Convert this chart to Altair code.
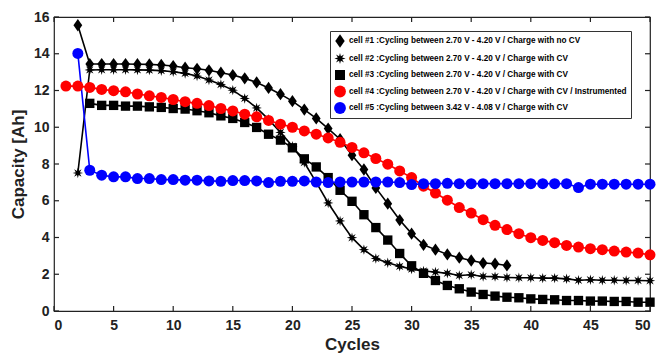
import math
import altair as alt
import pandas as pd

# ---------------- data ----------------
labels = [
    "cell #1 :Cycling between 2.70 V - 4.20 V / Charge with no CV",
    "cell #2 :Cycling between 2.70 V - 4.20 V / Charge with CV",
    "cell #3 :Cycling between 2.70 V - 4.20 V / Charge with CV",
    "cell #4 :Cycling between 2.70 V - 4.20 V / Charge with CV / Instrumented",
    "cell #5 :Cycling between 3.42 V - 4.08 V / Charge with CV",
]

cell1_start = 2
cell1 = [15.55, 13.44, 13.44, 13.44, 13.44, 13.43, 13.42, 13.39, 13.33, 13.24,
         13.18, 13.10, 12.97, 12.84, 12.66, 12.44, 12.14, 11.80, 11.42, 10.96,
         10.48, 9.93, 9.35, 8.48, 7.70, 6.70, 5.84, 4.95, 4.21, 3.60,
         3.34, 3.08, 2.90, 2.75, 2.61, 2.57, 2.48]

cell2_start = 2
cell2 = [7.51, 13.12, 13.13, 13.13, 13.13, 13.12, 13.11, 13.08, 13.02, 12.93,
         12.79, 12.57, 12.33, 12.02, 11.57, 11.05, 10.43, 9.72, 8.97, 8.08,
         7.00, 5.88, 4.90, 3.99, 3.34, 2.86, 2.63, 2.43, 2.28, 2.18,
         2.12, 2.05, 1.93, 1.97, 1.88, 1.87, 1.82, 1.81, 1.81, 1.79,
         1.79, 1.75, 1.67, 1.70, 1.67, 1.67, 1.66, 1.66, 1.65]

cell3_start = 3
cell3 = [11.30, 11.19, 11.19, 11.15, 11.15, 11.11, 11.08, 11.02, 10.99, 10.90,
         10.79, 10.62, 10.48, 10.26, 9.99, 9.62, 9.30, 8.88, 8.28, 7.84,
         7.26, 6.57, 5.97, 5.24, 4.54, 3.86, 3.13, 2.46, 2.05, 1.66,
         1.39, 1.21, 1.03, 0.90, 0.81, 0.75, 0.72, 0.66, 0.63, 0.61,
         0.57, 0.57, 0.54, 0.54, 0.52, 0.52, 0.48, 0.48]

cell4_start = 1
cell4 = [12.24, 12.24, 12.17, 12.06, 11.99, 11.93, 11.81, 11.71, 11.62, 11.51,
         11.39, 11.30, 11.18, 11.02, 10.89, 10.71, 10.57, 10.37, 10.17, 10.00,
         9.80, 9.62, 9.42, 9.18, 8.90, 8.61, 8.30, 7.99, 7.62, 7.26,
         6.79, 6.42, 6.03, 5.63, 5.33, 4.97, 4.66, 4.43, 4.21, 3.99,
         3.84, 3.72, 3.57, 3.48, 3.39, 3.34, 3.26, 3.21, 3.15, 3.06]

cell5_start = 2
cell5 = [14.02, 7.66, 7.39, 7.30, 7.30, 7.21, 7.21, 7.15, 7.15, 7.12,
         7.12, 7.08, 7.06, 7.10, 7.10, 7.08, 6.99, 7.06, 7.06, 7.08,
         7.02, 6.99, 7.02, 7.02, 7.02, 7.02, 7.02, 6.99, 6.88, 6.93,
         6.93, 6.95, 6.93, 6.93, 6.93, 6.93, 6.93, 6.93, 6.93, 6.93,
         6.93, 6.93, 6.72, 6.90, 6.90, 6.90, 6.90, 6.90, 6.90]

x_ticks = list(range(0, 51, 5))
y_ticks = list(range(0, 17, 2))

# ---------------- tables ----------------
rows = []
for lab, start, vals in zip(labels,
                            [cell1_start, cell2_start, cell3_start, cell4_start, cell5_start],
                            [cell1, cell2, cell3, cell4, cell5]):
    for i, v in enumerate(vals):
        rows.append({"series": lab, "cycle": start + i, "cap": v})
df = pd.DataFrame(rows)
xt_df = pd.DataFrame({"tx": x_ticks})
yt_df = pd.DataFrame({"ty": y_ticks})

# ---------------- styles ----------------
colors = ["#000000", "#000000", "#000000", "#FF0000", "#0000FF"]

pts = []
for k in range(16):
    r = 0.95 if k % 2 == 0 else 0.40
    a = k * math.pi / 8 - math.pi / 2
    pts.append(f"{r * math.cos(a):.3f},{r * math.sin(a):.3f}")
star_path = "M" + "L".join(pts) + "Z"
diamond_path = "M0,-1.12L0.8,0L0,1.12L-0.8,0Z"
square_path = "M-0.85,-0.85L0.85,-0.85L0.85,0.85L-0.85,0.85Z"
shapes = [diamond_path, star_path, square_path, "circle", "circle"]

FONT = "Liberation Sans"
W, H = 596, 294
TICK = 5
INK = "#222222"

xscale = alt.Scale(domain=[0, 50], nice=False)
yscale = alt.Scale(domain=[0, 16], nice=False)

legend_kw = dict(title=None, orient="none", legendX=276, legendY=14,
                 labelFont=FONT, labelFontSize=8.2, labelFontWeight="bold",
                 labelColor="black", symbolSize=140, symbolStrokeWidth=0,
                 rowPadding=4.5, padding=4, labelOffset=3,
                 strokeColor="#333333", fillColor="white", labelLimit=400)

color_enc = alt.Color("series:N", scale=alt.Scale(domain=labels, range=colors),
                      legend=alt.Legend(**legend_kw))
shape_enc = alt.Shape("series:N", scale=alt.Scale(domain=labels, range=shapes),
                      legend=alt.Legend(**legend_kw))

x_bottom = alt.X("cycle:Q", scale=xscale,
                 axis=alt.Axis(values=x_ticks, format="d", ticks=False, tickSize=0,
                               domain=False, grid=False, labelPadding=7,
                               labelFont=FONT, labelFontSize=14, labelFontWeight="bold",
                               labelColor=INK,
                               title="Cycles", titleFont=FONT, titleFontSize=17,
                               titleFontWeight="bold", titleColor=INK,
                               titlePadding=4))
y_left = alt.Y("cap:Q", scale=yscale,
               axis=alt.Axis(values=y_ticks, format="d", ticks=False, tickSize=0,
                             domain=False, grid=False, labelPadding=5,
                             labelFont=FONT, labelFontSize=14, labelFontWeight="bold",
                             labelColor=INK,
                             title="Capacity [Ah]", titleFont=FONT, titleFontSize=17,
                             titleFontWeight="bold", titleColor=INK,
                             titlePadding=6))

lines = alt.Chart(df).mark_line(strokeWidth=1.6).encode(
    x=x_bottom,
    y=y_left,
    color=color_enc,
    detail="series:N",
)

points = alt.Chart(df).mark_point(filled=True, opacity=1, size=121).encode(
    x=alt.X("cycle:Q", scale=xscale, axis=None),
    y=alt.Y("cap:Q", scale=yscale, axis=None),
    color=color_enc,
    shape=shape_enc,
)

# inward tick marks on all four sides (positions from the shared scales)
tick_style = dict(color=INK, strokeWidth=1.2)
xt_bottom = alt.Chart(xt_df).mark_rule(**tick_style).encode(
    x=alt.X("tx:Q", scale=xscale, axis=None),
    y=alt.value(H - TICK), y2=alt.value(H))
xt_top = alt.Chart(xt_df).mark_rule(**tick_style).encode(
    x=alt.X("tx:Q", scale=xscale, axis=None),
    y=alt.value(0), y2=alt.value(TICK))
yt_left = alt.Chart(yt_df).mark_rule(**tick_style).encode(
    y=alt.Y("ty:Q", scale=yscale, axis=None),
    x=alt.value(0), x2=alt.value(TICK))
yt_right = alt.Chart(yt_df).mark_rule(**tick_style).encode(
    y=alt.Y("ty:Q", scale=yscale, axis=None),
    x=alt.value(W - TICK), x2=alt.value(W))

chart = alt.layer(lines, points, xt_bottom, xt_top, yt_left, yt_right).resolve_axis(
    x="independent", y="independent"
).properties(
    width=W, height=H,
    autosize=alt.AutoSizeParams(type="none"),
    padding={"left": 54, "top": 17, "right": 10, "bottom": 44},
    background="white",
).configure_view(
    stroke=INK, strokeWidth=1.2
)

chart.save("out.html", embed_options={"renderer": "svg", "actions": False})
